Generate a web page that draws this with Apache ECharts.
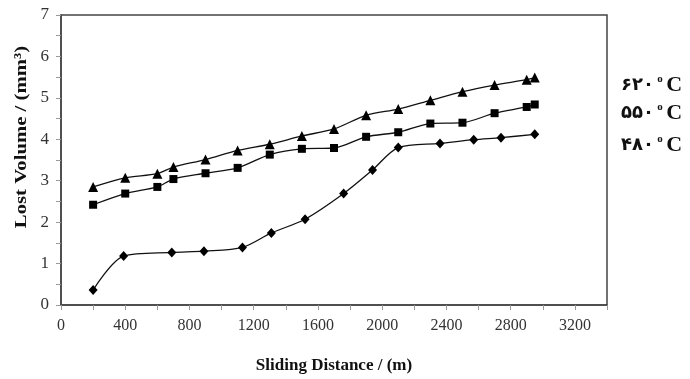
<!DOCTYPE html>
<html>
<head>
<meta charset="utf-8">
<script src="https://cdn.jsdelivr.net/npm/echarts@6/dist/echarts.min.js"></script>
<style>html,body{margin:0;padding:0;background:#fff}#c{width:690px;height:379px}</style>
</head>
<body>
<div id="c"></div>
<script>
// Sliding distance (m) and lost volume (mm³)
var x620 = [200, 400, 600, 700, 900, 1100, 1300, 1500, 1700, 1900, 2100, 2300, 2500, 2700, 2900, 2950];
var y620 = [2.85, 3.07, 3.17, 3.33, 3.51, 3.73, 3.88, 4.08, 4.25, 4.58, 4.73, 4.94, 5.15, 5.31, 5.44, 5.49];
var x550 = [200, 400, 600, 700, 900, 1100, 1300, 1500, 1700, 1900, 2100, 2300, 2500, 2700, 2900, 2950];
var y550 = [2.42, 2.69, 2.85, 3.04, 3.18, 3.31, 3.63, 3.77, 3.79, 4.06, 4.17, 4.38, 4.40, 4.63, 4.78, 4.84];
var x480 = [200, 390, 690, 890, 1130, 1310, 1520, 1760, 1940, 2100, 2360, 2570, 2740, 2950];
var y480 = [0.36, 1.18, 1.27, 1.30, 1.39, 1.74, 2.07, 2.69, 3.26, 3.80, 3.90, 3.99, 4.04, 4.12];
var seriesNames = ['۶۲۰', '۵۵۰', '۴۸۰'];
var xTitle = 'Sliding Distance / (m)';
var yTitle = 'Lost Volume / (mm³)';

function pairs(xs, ys) { return xs.map(function (v, i) { return [v, ys[i]]; }); }

var serif = '"Liberation Serif", "DejaVu Serif", serif';
var chart = echarts.init(document.getElementById('c'));
var lineStyle = { color: '#111', width: 1.3 };
var legendRich = {
  d: { fontFamily: '"DejaVu Sans", sans-serif', fontSize: 18, fontWeight: 'bold', fill: '#111' },
  s: { fontFamily: serif, fontSize: 11, fontWeight: 'bold', fill: '#111', verticalAlign: 'top', padding: [0, 0, 8, 0] },
  c: { fontFamily: serif, fontSize: 22, fontWeight: 'bold', fill: '#111' }
};
function legendText(name, cy) {
  return { type: 'text', x: 621, y: cy, style: { text: '{d|' + name + '} {s|o} {c|C}', rich: legendRich, textVerticalAlign: 'middle', verticalAlign: 'middle' } };
}
chart.setOption({
  animation: false,
  backgroundColor: '#fff',
  grid: { left: 61, right: 83, top: 15, bottom: 70, show: true, borderColor: '#444', borderWidth: 1.5, backgroundColor: 'transparent' },
  xAxis: {
    type: 'value', min: 0, max: 3400, interval: 400,
    name: xTitle, nameLocation: 'middle', nameGap: 52,
    nameTextStyle: { fontFamily: serif, fontWeight: 'bold', fontSize: 17, color: '#111' },
    axisLine: { show: true, lineStyle: { color: '#444', width: 1.5 } },
    axisTick: { show: true, length: 5, lineStyle: { color: '#999' } },
    minorTick: { show: true, splitNumber: 2, length: 5, lineStyle: { color: '#999' } },
    splitLine: { show: false },
    axisLabel: { fontFamily: serif, fontSize: 16, color: '#333', margin: 13,
      formatter: function (v) { return v % 400 === 0 && v <= 3200 ? String(v) : ''; } }
  },
  yAxis: {
    type: 'value', min: 0, max: 7, interval: 1,
    axisLine: { show: true, lineStyle: { color: '#444', width: 1.5 } },
    axisTick: { show: true, length: 5, lineStyle: { color: '#999' } },
    minorTick: { show: true, splitNumber: 2, length: 5, lineStyle: { color: '#999' } },
    splitLine: { show: false },
    axisLabel: { fontFamily: serif, fontSize: 17, color: '#333', margin: 12 }
  },
  series: [
    { name: seriesNames[0], type: 'line', data: pairs(x620, y620), smooth: 0.3, symbol: 'triangle', symbolSize: 10,
      itemStyle: { color: '#000' }, lineStyle: lineStyle },
    { name: seriesNames[1], type: 'line', data: pairs(x550, y550), smooth: 0.3, symbol: 'rect', symbolSize: 8,
      itemStyle: { color: '#000' }, lineStyle: lineStyle },
    { name: seriesNames[2], type: 'line', data: pairs(x480, y480), smooth: 0.3, symbol: 'diamond', symbolSize: [9, 10],
      itemStyle: { color: '#000' }, lineStyle: lineStyle }
  ],
  graphic: [
    { type: 'text', x: 22, y: 137, rotation: Math.PI / 2, scaleX: 1.22,
      style: { text: yTitle, fontFamily: serif, fontWeight: 'bold', fontSize: 17, fill: '#111', align: 'center', verticalAlign: 'middle' } },
    legendText(seriesNames[0], 85),
    legendText(seriesNames[1], 113),
    legendText(seriesNames[2], 145)
  ]
});
</script>
</body>
</html>
